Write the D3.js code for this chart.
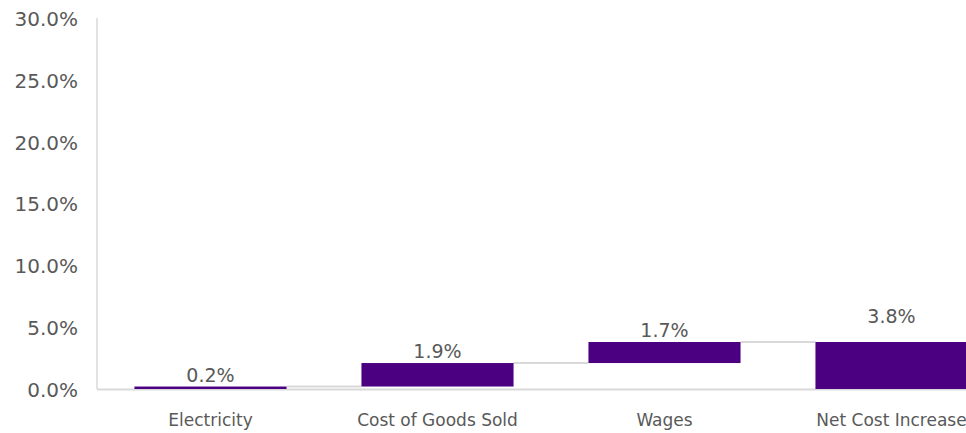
<!DOCTYPE html>
<html>
<head>
<meta charset="utf-8">
<script src="https://cdn.jsdelivr.net/npm/d3@7"></script>
<style>
  html, body { margin: 0; padding: 0; background: #fff; }
  svg { display: block; font-family: "DejaVu Sans", sans-serif; }
</style>
</head>
<body>
<svg id="chart" width="966" height="433"></svg>
<script>
// Waterfall of cost changes, ending in a total bar
const categories = ["Electricity", "Cost of Goods Sold", "Wages", "Net Cost Increase"];
const values = [0.2, 1.9, 1.7, 3.8];
const isTotal = [false, false, false, true];
const yTicks = [0, 5, 10, 15, 20, 25, 30];

const svg = d3.select("#chart");
const barColor = "#4b0082";
const gridColor = "#d9d9d9";
const textColor = "#595959";

// Running start/end for each step; total bars start from zero
let running = 0;
const steps = categories.map((c, i) => {
  let start, end;
  if (isTotal[i]) { start = 0; end = values[i]; running = values[i]; }
  else { start = running; end = running + values[i]; running = end; }
  return { cat: c, value: values[i], start, end, total: isTotal[i] };
});

const x = d3.scaleBand().domain(categories).range([97, 1005])
  .paddingInner(0.33).paddingOuter(0.165);
const y = d3.scaleLinear().domain([0, 30]).range([389, 18]);

// Y axis labels
const fmt = d => d.toFixed(1) + "%";
const yAxis = d3.axisLeft(y).tickValues(yTicks).tickFormat(fmt).tickSize(0).tickPadding(19);
const gy = svg.append("g").attr("transform", "translate(97,1)").call(yAxis);
gy.select(".domain").remove();
gy.selectAll("text").attr("fill", textColor).style("font-size", "20px")
  .style("font-family", "'DejaVu Sans', sans-serif");

// Axis lines
svg.append("line").attr("x1", 97).attr("x2", 97).attr("y1", y(30)).attr("y2", y(0))
  .attr("stroke", gridColor).attr("stroke-width", 1.5);
svg.append("line").attr("x1", 97).attr("x2", 1005).attr("y1", y(0) + 0.5).attr("y2", y(0) + 0.5)
  .attr("stroke", gridColor).attr("stroke-width", 2);

// Connectors between consecutive bars
const links = steps.slice(0, -1).map((s, i) => ({ from: s, to: steps[i + 1] }));
svg.append("g").selectAll("line").data(links).join("line")
  .attr("x1", d => x(d.from.cat) + x.bandwidth())
  .attr("x2", d => x(d.to.cat))
  .attr("y1", d => y(d.from.end)).attr("y2", d => y(d.from.end))
  .attr("stroke", gridColor).attr("stroke-width", 2);

// Bars
svg.append("g").selectAll("rect").data(steps).join("rect")
  .attr("x", d => x(d.cat))
  .attr("width", x.bandwidth())
  .attr("y", d => y(Math.max(d.start, d.end)))
  .attr("height", d => Math.abs(y(d.start) - y(d.end)))
  .attr("fill", barColor);

// Value labels
svg.append("g").selectAll("text").data(steps).join("text")
  .attr("x", d => x(d.cat) + x.bandwidth() / 2)
  .attr("y", d => y(Math.max(d.start, d.end)) - (d.total ? 19 : 5))
  .attr("text-anchor", "middle")
  .attr("fill", textColor)
  .style("font-size", "19px")
  .text(d => d.value.toFixed(1) + "%");

// Category labels
svg.append("g").selectAll("text").data(steps).join("text")
  .attr("x", d => x(d.cat) + x.bandwidth() / 2)
  .attr("y", 426)
  .attr("text-anchor", "middle")
  .attr("fill", textColor)
  .style("font-size", "17px")
  .text(d => d.cat);
</script>
</body>
</html>
